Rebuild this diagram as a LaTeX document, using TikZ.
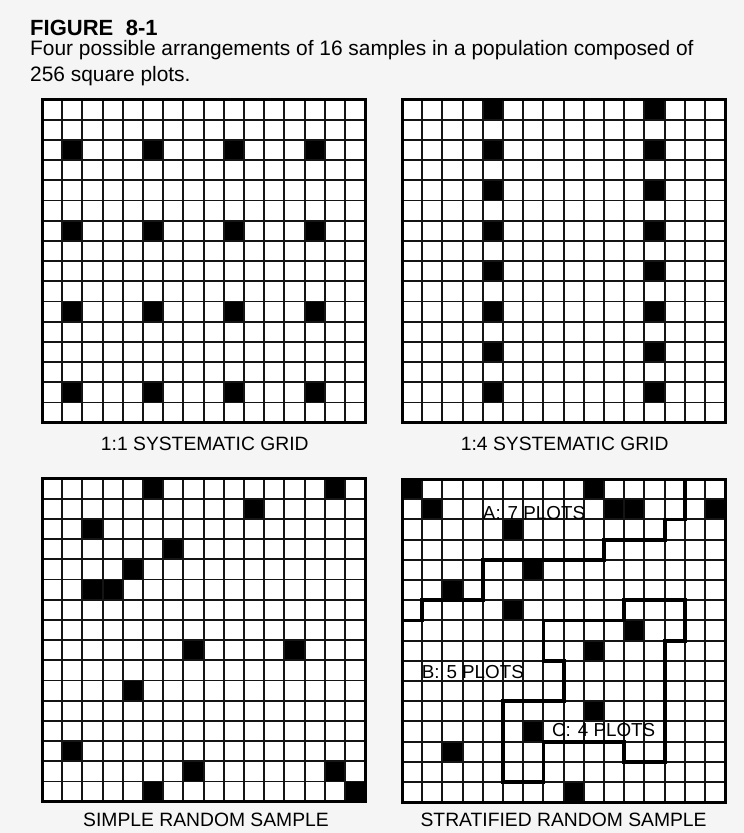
\documentclass[tikz,border=0pt]{standalone}
\usepackage{fontspec}
\setmainfont{Liberation Sans}
\begin{document}
\begin{tikzpicture}[x=1pt,y=-1pt,
  thinline/.style={line width=1.9pt, black!92},
  frame/.style={line width=3pt, black},
  strata/.style={line width=3.8pt, black, line join=miter},
  blackcell/.style={fill=black},
  caption/.style={inner sep=0pt, anchor=base, font=\fontsize{19.3}{22}\selectfont},
  plotlabel/.style={inner sep=0pt, anchor=base, font=\fontsize{18.8}{20}\selectfont},
  headtext/.style={inner sep=0pt, anchor=base west, font=\fontsize{20.9}{26}\selectfont},
]
\fill[black!4] (0,0) rectangle (744,833);
\useasboundingbox (0,0) rectangle (744,833);

\newcommand\samplegrid[3]{%
 \begin{scope}[shift={(#1,#2)}, x=20.2pt, y=-20.2pt]
  \fill[white] (0,0) rectangle (16,16);
  \foreach \c/\r in {#3} {\fill[blackcell] (\c,\r) rectangle ++(1,1);}
  \foreach \i in {1,...,15} {\draw[thinline] (\i,0) -- (\i,16); \draw[thinline] (0,\i) -- (16,\i);}
  \draw[frame] (0,0) rectangle (16,16);
 \end{scope}}

% title and caption
\node[headtext, font=\bfseries\fontsize{22}{26}\selectfont] (title) at (30,35) {FIGURE\hspace{12.5pt}8-1};
\node[headtext] (cap1) at (30,55) {Four possible arrangements of 16 samples in a population composed of};
\node[headtext] (cap2) at (30,81.7) {256 square plots.};

% top left: 1:1 systematic grid
\samplegrid{42}{99.5}{1/2,5/2,9/2,13/2,1/6,5/6,9/6,13/6,1/10,5/10,9/10,13/10,1/14,5/14,9/14,13/14}
% top right: 1:4 systematic grid
\samplegrid{402}{99.5}{4/0,4/2,4/4,4/6,4/8,4/10,4/12,4/14,12/0,12/2,12/4,12/6,12/8,12/10,12/12,12/14}
% bottom left: simple random sample
\samplegrid{42}{478.5}{5/0,14/0,10/1,2/2,6/3,4/4,2/5,3/5,7/8,12/8,4/10,1/13,7/14,14/14,5/15,15/15}
% bottom right: stratified random sample
\samplegrid{402}{479}{0/0,9/0,1/1,10/1,11/1,15/1,5/2,6/4,2/5,5/6,11/7,9/8,9/11,6/12,2/13,8/15}
\begin{scope}[shift={(402,479)}, x=20.2pt, y=-20.2pt]
  \draw[strata] (0,7) -- (1,7) -- (1,6) -- (4,6) -- (4,4) -- (10,4) -- (10,3) -- (13,3) -- (13,2) -- (14,2) -- (14,0);
  \draw[strata] (11,6) -- (14,6) -- (14,8) -- (13,8) -- (13,14) -- (11,14) -- (11,13) -- (7,13) -- (7,15) -- (5,15) -- (5,11) -- (8,11) -- (8,9) -- (7,9) -- (7,7) -- (11,7) -- cycle;
\end{scope}
\node[plotlabel] (la) at (534,519.3) {A:\hspace{7pt}7 PLOTS};
\node[plotlabel] (lb) at (472.8,678.3) {B:\hspace{7pt}5 PLOTS};
\node[plotlabel] (lc) at (603.7,736.7) {C:\hspace{7pt}4 PLOTS};

% grid titles
\node[caption] (g1) at (204.8,450) {1:1 SYSTEMATIC GRID};
\node[caption] (g2) at (564.7,450) {1:4 SYSTEMATIC GRID};
\node[caption] (g3) at (206,826) {SIMPLE RANDOM SAMPLE};
\node[caption] (g4) at (563.6,826) {STRATIFIED RANDOM SAMPLE};
\end{tikzpicture}
\end{document}
